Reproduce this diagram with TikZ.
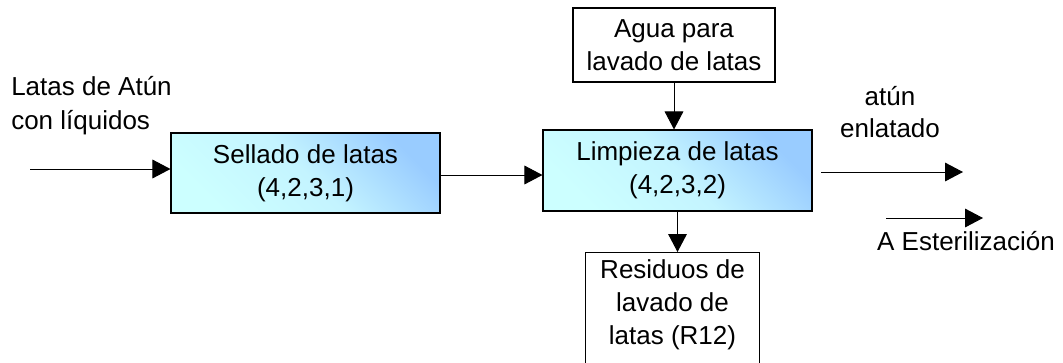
\documentclass[tikz,border=0pt]{standalone}
\usepackage{fontspec}
\setmainfont{Liberation Sans}
\usetikzlibrary{arrows.meta}
\definecolor{procTop}{HTML}{99CCFF}
\definecolor{procBot}{HTML}{CCFFFF}
\definecolor{procMid}{HTML}{C4F4FF}
\begin{document}
\begin{tikzpicture}[x=0.75pt,y=-0.75pt,
  font=\fontsize{19.5}{24.75}\selectfont,
  box/.style={draw=black, line width=0.8pt, inner sep=0pt, align=center},
  proc/.style={box, shade, bottom color=procBot, top color=procTop, middle color=procMid, shading angle=-45},
  arr/.style={line width=0.75pt, -{Triangle[length=13.5pt,width=14pt]}},
  lbl/.style={inner sep=0pt, align=center}]
\useasboundingbox (0,0) rectangle (1063,362);
\clip (0,0) rectangle (1063,362);
\fill[white] (0,0) rectangle (1063,362);

\node[proc, minimum width=201.75pt, minimum height=60pt] (sell) at (305.5,173) {Sellado de latas\\(4,2,3,1)};
\node[proc, minimum width=201.75pt, minimum height=60.75pt] (limp) at (677.5,170.5) {Limpieza de latas\\(4,2,3,2)};
\node[box, minimum width=151.5pt, minimum height=55.5pt] (agua) at (674,45) {Agua para\\lavado de latas};
\node[box, minimum width=130pt, minimum height=112pt, anchor=north] (res) at (672.5,252) {};
\node[lbl] (restext) at (672.5,305) {Residuos de\\lavado de\\latas (R12)};

\node[inner sep=0pt, align=left, anchor=west, font=\fontsize{19.5}{25.5}\selectfont] (inlbl) at (11,106) {Latas de Atún\\con líquidos};
\node[lbl, font=\fontsize{19.5}{24}\selectfont] (outlbl) at (890,112) {atún\\enlatado};
\node[lbl] (estlbl) at (966,241) {A Esterilización};

\coordinate (inS) at (30,169);
\coordinate (outS) at (821,172);
\coordinate (outE) at (963,172);
\coordinate (esS) at (886,218);
\coordinate (esE) at (983,218);

\draw[arr] (inS) -- (inS -| sell.west);
\draw[arr] ([yshift=-1.5pt]sell.east) -- ([yshift=-1.5pt]sell.east -| limp.west);
\draw[arr] (agua.south) -- (agua.south |- limp.north);
\draw[arr] (limp.south) -- (limp.south |- res.north);
\draw[arr] (outS) -- (outE);
\draw[arr] (esS) -- (esE);
\end{tikzpicture}
\end{document}
